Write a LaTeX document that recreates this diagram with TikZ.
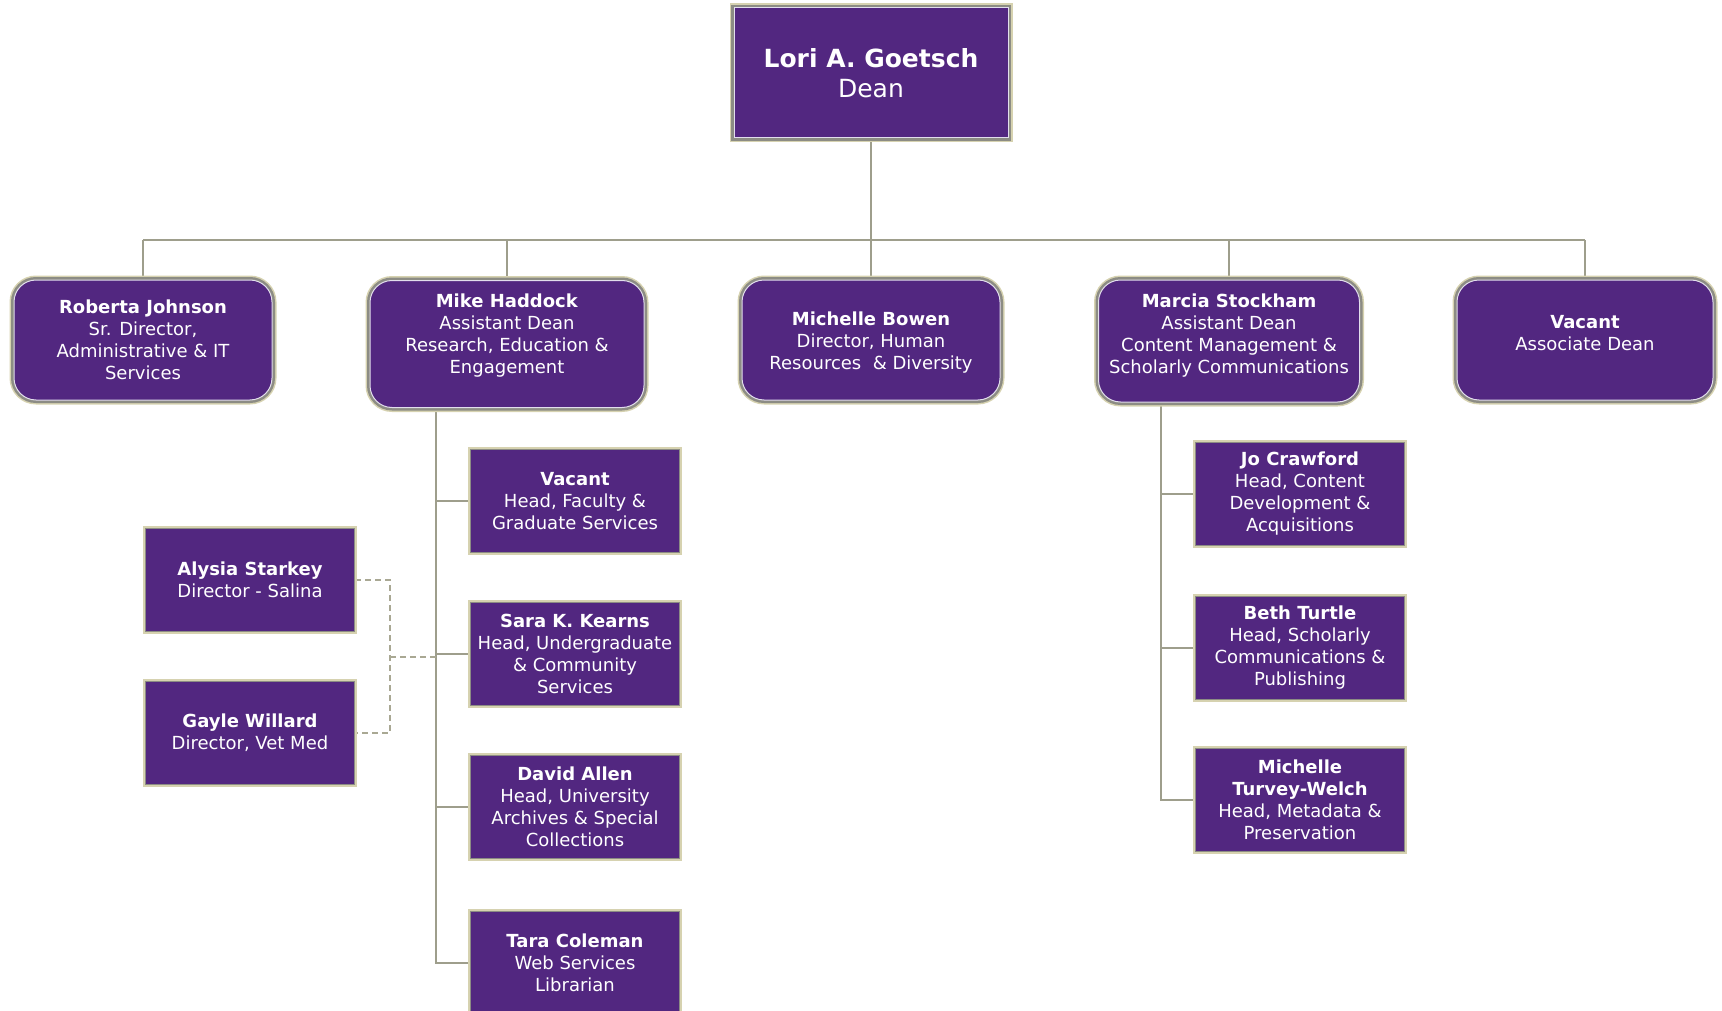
\documentclass[tikz,border=0pt]{standalone}
\usepackage{fontspec}
\setmainfont{DejaVu Sans}
\usetikzlibrary{positioning,backgrounds}

\definecolor{unitpurple}{RGB}{82,39,128}
\definecolor{rimbeige}{RGB}{214,210,176}
\definecolor{rimgray}{RGB}{140,140,132}
\definecolor{rimlight}{RGB}{226,222,236}
\definecolor{linkgray}{RGB}{158,158,140}

\newcommand{\who}[2]{\textbf{#1}\\#2}
\newcommand{\lift}[2]{\raisebox{#1}[\height][\depth]{\begin{tabular}{@{}c@{}}#2\end{tabular}}}

\tikzset{
  unitbox/.style={fill=unitpurple, text=white, align=center, inner sep=0pt,
    font=\fontsize{18}{22}\selectfont,
    preaction={draw=rimbeige, line width=5pt},
    draw=rimgray, line width=1.2pt,
    minimum width=209pt, minimum height=103pt},
  roundbox/.style={fill=unitpurple, text=white, align=center, inner sep=0pt,
    font=\fontsize{18}{22}\selectfont, rounded corners=22pt,
    preaction={draw=rimbeige, line width=9pt},
    preaction={draw=rimgray, line width=6pt},
    draw=rimlight, line width=1pt, minimum height=120pt},
  deanbox/.style={unitbox, rounded corners=0pt, font=\fontsize{25}{30}\selectfont,
    preaction={draw=rimbeige, line width=9pt},
    preaction={draw=rimgray, line width=6pt},
    draw=rimlight, line width=1pt},
  link/.style={draw=linkgray, line width=2pt},
  dashlink/.style={draw=linkgray!80!rimbeige, line width=2pt, dash pattern=on 6pt off 4pt}
}

\begin{document}
\begin{tikzpicture}[x=1pt, y=-1pt]
\useasboundingbox (0,0) rectangle (1722,1011);

% dean
\node [deanbox, minimum width=274pt, minimum height=130pt] (goetsch) at (871,73) {\who{Lori A. Goetsch}{Dean}};

% second row
\node [roundbox, minimum width=258pt] (johnson) at (143,340) {\who{Roberta Johnson}{Sr. Director,\\Administrative \& IT\\Services}};
\node [roundbox, minimum width=274pt, minimum height=127pt] (haddock) at (507,344) {\lift{8pt}{\who{Mike Haddock}{Assistant Dean\\Research, Education \&\\Engagement}}};
\node [roundbox, minimum width=258pt] (bowen) at (871,340) {\lift{-3pt}{\who{Michelle Bowen}{Director, Human\\Resources~~\& Diversity}}};
\node [roundbox, minimum width=261pt, minimum height=122pt] (stockham) at (1229,341) {\lift{5pt}{\who{Marcia Stockham}{Assistant Dean\\Content Management \&\\Scholarly Communications}}};
\node [roundbox, minimum width=256pt] (vacantad) at (1585,340) {\lift{5pt}{\who{Vacant}{Associate Dean}}};

% under Haddock
\node [unitbox] (vacantfgs) at (575,501) {\who{Vacant}{Head, Faculty \&\\Graduate Services}};
\node [unitbox] (kearns) at (575,654) {\who{Sara K. Kearns}{Head, Undergraduate\\\& Community\\Services}};
\node [unitbox] (allen) at (575,807) {\who{David Allen}{Head, University\\Archives \& Special\\Collections}};
\node [unitbox] (coleman) at (575,963) {\who{Tara Coleman}{Web Services\\Librarian}};
\node [unitbox] (starkey) at (250,580) {\who{Alysia Starkey}{Director - Salina}};
\node [unitbox] (willard) at (250,733) {\who{Gayle Willard}{Director, Vet Med}};

% under Stockham
\node [unitbox] (crawford) at (1300,494) {\who{Jo Crawford}{Head, Content\\Development \&\\Acquisitions}};
\node [unitbox] (turtle) at (1300,648) {\who{Beth Turtle}{Head, Scholarly\\Communications \&\\Publishing}};
\node [unitbox] (turvey) at (1300,800) {\textbf{Michelle}\\\textbf{Turvey-Welch}\\Head, Metadata \&\\Preservation};

\begin{scope}[on background layer]
\coordinate (bus) at (0,240);
\coordinate (mk) at (436,0);
\coordinate (mc) at (1161,0);
\coordinate (dj) at (390,657);
\draw [link] (goetsch.south) -- (goetsch.south |- bus);
\draw [link] (johnson.north |- bus) -- (vacantad.north |- bus);
\foreach \n in {johnson,haddock,bowen,stockham,vacantad}
  \draw [link] (\n.north) -- (\n.north |- bus);
\draw [link] (haddock.south -| mk) |- (coleman.west);
\foreach \n in {vacantfgs,kearns,allen}
  \draw [link] (\n.west) -- (\n.west -| mk);
\draw [link] (stockham.south -| mc) |- (turvey.west);
\foreach \n in {crawford,turtle}
  \draw [link] (\n.west) -- (\n.west -| mc);
\draw [dashlink] (starkey.east) -| (dj) |- (willard.east);
\draw [dashlink] (dj) -- (dj -| mk);
\end{scope}
\end{tikzpicture}
\end{document}
